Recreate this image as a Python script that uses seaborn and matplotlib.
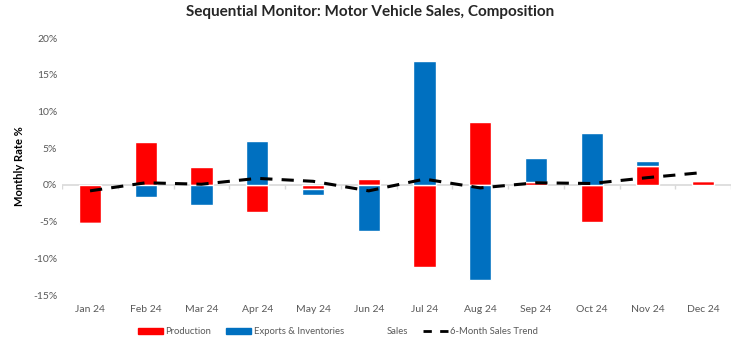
import matplotlib
matplotlib.use("Agg")
import matplotlib.pyplot as plt
from matplotlib.lines import Line2D
from matplotlib.patches import Patch
import numpy as np
import pandas as pd
import seaborn as sns

# Data (monthly rate, %)
months = ["Jan 24", "Feb 24", "Mar 24", "Apr 24", "May 24", "Jun 24",
          "Jul 24", "Aug 24", "Sep 24", "Oct 24", "Nov 24", "Dec 24"]
production = [-5.2, 5.9, 2.5, -3.7, -0.5, 0.8, -11.2, 8.6, 0.4, -5.1, 2.6, 0.5]
exports_inv = [-0.15, -1.7, -2.7, 6.0, -0.8, -6.3, 16.9, -12.9, 3.3, 7.1, 0.7, 0.15]
trend = [-0.8, 0.3, 0.1, 0.9, 0.5, -0.8, 0.8, -0.4, 0.3, 0.2, 1.0, 1.7]

red = "#FF0000"
blue = "#0070C0"

df = pd.DataFrame({"month": months, "production": production,
                   "exports": exports_inv, "trend": trend})
# blue stacks on red when both go the same way, otherwise starts at zero
prod = np.array(production)
exp_ = np.array(exports_inv)
df["exp_bottom"] = np.where(np.sign(prod) == np.sign(exp_), prod, 0.0)

sns.set_style("white")
plt.rcParams["font.family"] = ["Lato", "DejaVu Sans"]

fig = plt.figure(figsize=(7.4, 3.53), dpi=100)
ax = fig.add_axes([0.084, 0.164, 0.904, 0.728])

sns.barplot(data=df, x="month", y="production", color=red, width=0.4,
            saturation=1, ax=ax)
sns.barplot(data=df, x="month", y="exports", color=blue, width=0.4,
            saturation=1, bottom=df["exp_bottom"], ax=ax)
sns.lineplot(x=np.arange(len(months)), y=df["trend"], color="black",
             linewidth=2.2, ax=ax)
ax.lines[-1].set_dashes([4, 3])

ax.set_ylim(-15, 20)
ax.set_xlim(-0.5, len(months) - 0.5)
ax.set_yticks(range(-15, 21, 5))
ax.set_yticklabels([f"{v}%" for v in range(-15, 21, 5)])
for s in ax.spines.values():
    s.set_visible(False)

# zero line with category boundary ticks
ax.axhline(0, color="#D9D9D9", linewidth=1.2, zorder=0)
ax.vlines(np.arange(len(months) + 1) - 0.5, -0.6, 0, color="#D9D9D9",
          linewidth=1, zorder=0)

ax.tick_params(axis="both", length=0, labelsize=7.5, colors="#595959")
ax.tick_params(axis="x", pad=7)
ax.set_xlabel("")
ax.set_ylabel("Monthly Rate %", fontsize=8, fontweight="bold", color="black",
              labelpad=6)

fig.suptitle("Sequential Monitor: Motor Vehicle Sales, Composition",
             fontsize=11, fontweight="bold", y=0.985)

handles = [Patch(color=red), Patch(color=blue),
           Line2D([], [], color="none"),
           Line2D([], [], color="black", linestyle=(0, (3, 3)), linewidth=2)]
labels = ["Production", "Exports & Inventories", "Sales", "6-Month Sales Trend"]
fig.legend(handles, labels, loc="center", bbox_to_anchor=(0.457, 0.06),
           ncol=4, frameon=False, fontsize=6.8, labelcolor="#595959",
           handlelength=2.6, handleheight=0.6, handletextpad=0.3,
           columnspacing=1.6)

fig.savefig("out.png", dpi=100)
